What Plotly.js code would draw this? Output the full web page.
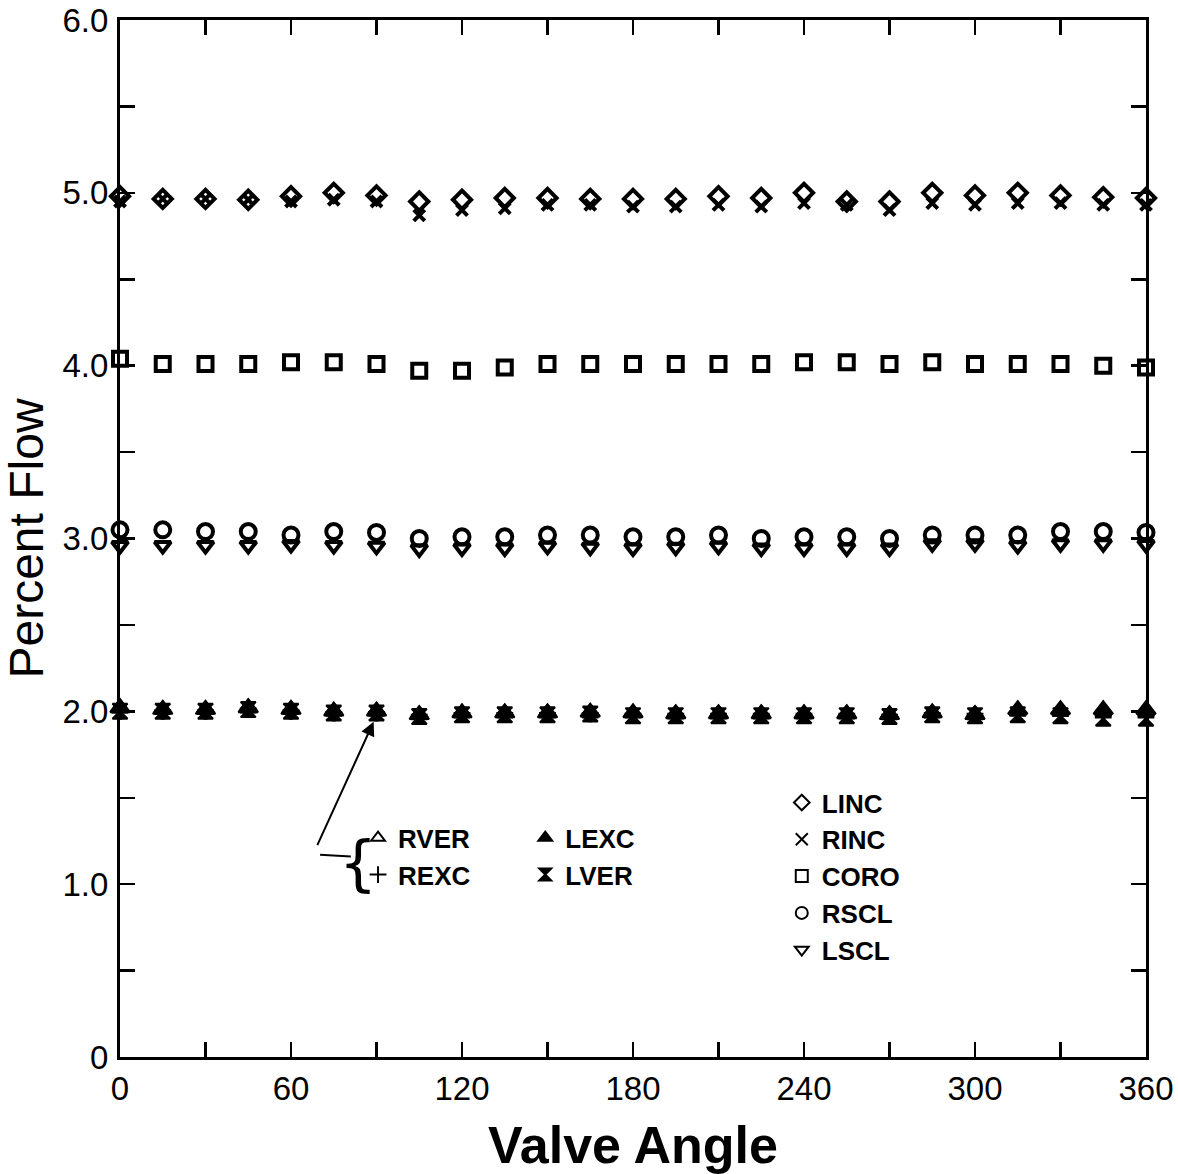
<!DOCTYPE html>
<html>
<head>
<meta charset="utf-8">
<script src="https://cdn.plot.ly/plotly-3.0.1.min.js"></script>
<style>html,body{margin:0;padding:0;background:#fff;}#chart{width:1178px;height:1174px;}</style>
</head>
<body>
<div id="chart"></div>
<script>
// ---- data ----
const angle = [0,15,30,45,60,75,90,105,120,135,150,165,180,195,210,225,240,255,270,285,300,315,330,345,360];
const LINC = [4.98,4.965,4.965,4.96,4.98,5.0,4.985,4.95,4.96,4.97,4.97,4.965,4.965,4.965,4.98,4.97,5.0,4.95,4.95,5.0,4.985,5.0,4.985,4.975,4.97];
const RINC = [4.95,4.965,4.965,4.96,4.95,4.96,4.95,4.87,4.90,4.91,4.93,4.93,4.92,4.92,4.93,4.92,4.94,4.93,4.90,4.94,4.93,4.94,4.94,4.93,4.93];
const CORO = [4.04,4.01,4.01,4.01,4.02,4.02,4.01,3.97,3.97,3.99,4.01,4.01,4.01,4.01,4.01,4.01,4.02,4.02,4.01,4.02,4.01,4.01,4.01,4.0,3.99];
const RSCL = [3.05,3.05,3.04,3.04,3.02,3.04,3.035,3.0,3.01,3.01,3.02,3.02,3.01,3.01,3.02,3.0,3.01,3.01,3.0,3.02,3.02,3.02,3.04,3.04,3.035];
const LSCL = [2.96,2.96,2.96,2.96,2.965,2.96,2.955,2.94,2.945,2.945,2.955,2.95,2.945,2.95,2.955,2.945,2.945,2.945,2.945,2.97,2.97,2.96,2.97,2.97,2.965];
const RVER = [2.02,2.01,2.01,2.02,2.01,2.0,2.0,1.98,1.99,1.99,1.99,1.99,1.99,1.985,1.985,1.985,1.985,1.985,1.98,1.99,1.98,2.0,2.0,2.0,2.0];
const REXC = [2.0,2.0,2.0,2.01,2.0,1.99,1.99,1.975,1.985,1.985,1.985,1.985,1.98,1.98,1.98,1.98,1.98,1.98,1.975,1.985,1.98,1.985,1.98,1.97,1.97];
const LEXC = [2.02,2.01,2.01,2.02,2.01,2.0,2.0,1.98,1.99,1.99,1.99,1.995,1.99,1.985,1.985,1.985,1.985,1.985,1.98,1.99,1.98,2.01,2.01,2.01,2.01];
const LVER = [2.0,2.0,2.0,2.01,2.0,1.99,1.99,1.97,1.98,1.98,1.98,1.985,1.975,1.975,1.975,1.975,1.975,1.975,1.97,1.98,1.975,1.98,1.975,1.96,1.96];

const xTickVals = [0,30,60,90,120,150,180,210,240,270,300,330,360];
const xTickText = ['0','','60','','120','','180','','240','','300','','360'];
const yTickVals = [0,0.5,1,1.5,2,2.5,3,3.5,4,4.5,5,5.5,6];
const yTickText = ['0','','1.0','','2.0','','3.0','','4.0','','5.0','','6.0'];

const K = 'black';
function tr(name, y, symbol, size, legend, lw) {
  return {
    type: 'scatter', mode: 'markers', name: name, x: angle, y: y,
    legend: legend, cliponaxis: false,
    marker: {symbol: symbol, size: size, color: K,
             line: {color: K, width: lw}}
  };
}

const data = [
  tr('LINC', LINC, 'diamond-open', 14, 'legend', 4),
  tr('RINC', RINC, 'x-thin-open', 11, 'legend', 4),
  tr('CORO', CORO, 'square-open', 14, 'legend', 4),
  tr('RSCL', RSCL, 'circle-open', 15, 'legend', 4),
  tr('LSCL', LSCL, 'triangle-down-open', 14, 'legend', 4),
  tr('RVER', RVER, 'triangle-up-open', 14, 'legend2', 4),
  tr('REXC', REXC, 'cross-thin-open', 12, 'legend2', 4),
  tr('LEXC', LEXC, 'triangle-up', 17, 'legend3', 2),
  tr('LVER', LVER, 'hourglass', 15, 'legend3', 2)
];

const legFont = {family: 'Liberation Sans, Arial, sans-serif', size: 26, color: K, weight: 'bold'};
const tickFont = {family: 'Liberation Sans Narrow, Liberation Sans, Arial, sans-serif', size: 33, color: K};
const legCommon = {xanchor: 'left', yanchor: 'top', font: legFont, itemsizing: 'constant',
           bgcolor: 'rgba(0,0,0,0)', borderwidth: 0, tracegroupgap: 0};

const layout = {
  width: 1178, height: 1174,
  paper_bgcolor: 'white', plot_bgcolor: 'white',
  margin: {l: 120, r: 32, t: 20, b: 117},
  showlegend: true,
  legend: Object.assign({x: 0.645, y: 0.268}, legCommon),
  legend2: Object.assign({x: 0.232, y: 0.234}, legCommon),
  legend3: Object.assign({x: 0.395, y: 0.234}, legCommon),
  xaxis: {
    range: [0, 360], tickmode: 'array', tickvals: xTickVals, ticktext: xTickText,
    ticks: 'inside', ticklen: 15, tickwidth: 2.5, tickcolor: K,
    showline: true, linecolor: K, linewidth: 3, mirror: 'ticks',
    showgrid: false, zeroline: false, tickfont: tickFont,
    title: {text: 'Valve Angle', font: {family: 'Liberation Sans, Arial, sans-serif', size: 52, color: K, weight: 'bold'}, standoff: 22}
  },
  yaxis: {
    range: [0, 6], tickmode: 'array', tickvals: yTickVals, ticktext: yTickText,
    ticks: 'inside', ticklen: 15, tickwidth: 2.5, tickcolor: K,
    showline: true, linecolor: K, linewidth: 3, mirror: 'ticks',
    showgrid: false, zeroline: false, tickfont: tickFont, ticklabelstandoff: 2,
    title: {text: 'Percent Flow', font: {family: 'Liberation Sans, Arial, sans-serif', size: 48, color: K}, standoff: 18}
  },
  shapes: [
    {type: 'line', xref: 'x', yref: 'y', x0: 70.2, y0: 1.17, x1: 81, y1: 1.16,
     line: {color: K, width: 2}}
  ],
  annotations: [
    {x: 89, y: 1.94, xref: 'x', yref: 'y', text: '', showarrow: true,
     arrowhead: 2, arrowsize: 1.4, arrowwidth: 2, arrowcolor: K, ax: -57, ay: 125},
    {x: 83.5, y: 1.12, xref: 'x', yref: 'y', text: '{', showarrow: false,
     font: {family: 'DejaVu Sans, sans-serif', size: 60, color: K, weight: 'normal'}}
  ]
};

Plotly.newPlot('chart', data, layout, {staticPlot: true});
</script>
</body>
</html>
